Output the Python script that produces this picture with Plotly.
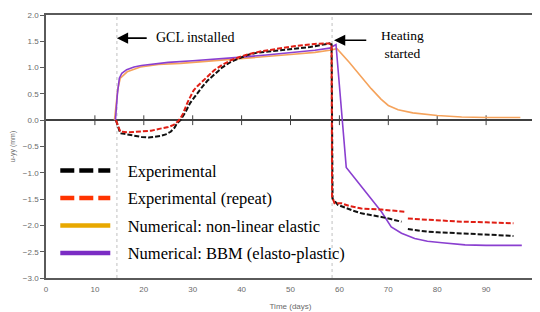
import plotly.graph_objects as go

# ---------------- data ----------------
exp_x = [14.3, 14.8, 15.2, 16, 17, 18, 19.6, 21, 22.5, 23.4, 24.5, 25.5, 26.3, 26.8, 27.5,
         28.5, 29.5, 30.9, 32, 33, 34.3, 36, 37.8, 39.5, 41.2, 43, 45, 48, 50, 52, 54,
         56.3, 57.9, 58.4, 58.6, 59.7, 61, 62.5, 64.5, 66.5, 68.6, 70.5, 72.7, None,
         74, 76, 78, 80, 82, 85, 88, 91, 93, 95.6]
exp_y = [0.0, -0.15, -0.25, -0.26, -0.28, -0.29, -0.32, -0.33, -0.32, -0.3, -0.27, -0.22, -0.14, -0.06, 0.0,
         0.15, 0.33, 0.51, 0.64, 0.75, 0.86, 1.0, 1.11, 1.18, 1.24, 1.28, 1.3, 1.33, 1.35, 1.37, 1.39,
         1.43, 1.46, 1.44, -1.49, -1.61, -1.66, -1.71, -1.77, -1.8, -1.84, -1.88, -1.93, None,
         -2.07, -2.1, -2.12, -2.13, -2.14, -2.15, -2.17, -2.18, -2.19, -2.2]

rep_x = [14.3, 14.8, 15.2, 17, 19.6, 21.5, 23.4, 25, 26.1, 27, 27.5, 28, 29, 30.2, 31, 32.3,
         34.4, 36, 37.8, 39.5, 41.2, 44, 48, 51, 54.9, 57.9, 58.4, 58.5, 59, 60.4, 62, 64.5,
         68.6, 71, 73.3, None, 74, 78, 82, 85, 90, 95.6]
rep_y = [0.0, -0.12, -0.22, -0.23, -0.22, -0.2, -0.16, -0.13, -0.09, -0.02, 0.04, 0.12, 0.35, 0.57, 0.65, 0.76,
         0.95, 1.05, 1.14, 1.2, 1.25, 1.31, 1.37, 1.41, 1.45, 1.46, 1.44, -1.45, -1.58, -1.58, -1.63, -1.68,
         -1.7, -1.72, -1.74, None, -1.87, -1.89, -1.91, -1.93, -1.94, -1.96]

nle_x = [14.0, 14.3, 14.7, 15.2, 16.6, 19.3, 23, 27.5, 35, 40, 45, 50, 55, 58, 59.5,
         62, 64.5, 66.5, 68.5, 70, 72, 75, 80, 85, 90, 97]
nle_y = [0.0, 0.3, 0.6, 0.8, 0.92, 1.01, 1.06, 1.08, 1.13, 1.17, 1.21, 1.25, 1.29, 1.33, 1.36,
         1.1, 0.82, 0.6, 0.4, 0.28, 0.2, 0.14, 0.09, 0.06, 0.05, 0.05]

bbm_x = [14.2, 14.6, 15, 15.5, 16.5, 18, 19.5, 22, 25, 30, 35, 40, 45, 50, 55, 58, 59.3,
         61.4, 64.5, 68.6, 70.6, 72.7, 75.4, 78, 81, 85.7, 90, 97.3]
bbm_y = [0.0, 0.5, 0.8, 0.89, 0.96, 1.01, 1.04, 1.07, 1.1, 1.13, 1.16, 1.2, 1.24, 1.28, 1.33, 1.37, 1.44,
         -0.9, -1.27, -1.74, -2.03, -2.15, -2.25, -2.3, -2.33, -2.37, -2.38, -2.38]

series_names = ["Experimental", "Experimental (repeat)",
                "Numerical: non-linear elastic", "Numerical: BBM (elasto-plastic)"]

event_x = [14.5, 58.5]
x_ticks = [0, 10, 20, 30, 40, 50, 60, 70, 80, 90, 100]
y_ticks = [2.0, 1.5, 1.0, 0.5, 0.0, -0.5, -1.0, -1.5, -2.0, -2.5, -3.0]

# ---------------- figure ----------------
fig = go.Figure()

serif = "Liberation Serif"
sans = "Liberation Sans"

# tick marks along the zero line
fig.add_trace(go.Scatter(x=x_ticks[1:-1], y=[0] * (len(x_ticks) - 2), mode="markers",
                         marker=dict(symbol="line-ns-open", size=7, color="#404040",
                                     line=dict(color="#404040", width=1)),
                         showlegend=False, hoverinfo="skip"))

fig.add_trace(go.Scatter(x=nle_x, y=nle_y, mode="lines", line=dict(color="#F5A35C", width=1.6),
                         showlegend=False))
fig.add_trace(go.Scatter(x=bbm_x, y=bbm_y, mode="lines", line=dict(color="#8A3FD0", width=1.6),
                         showlegend=False))
fig.add_trace(go.Scatter(x=exp_x, y=exp_y, mode="lines",
                         line=dict(color="#111111", width=2, dash="5px,2px"), showlegend=False))
fig.add_trace(go.Scatter(x=rep_x, y=rep_y, mode="lines",
                         line=dict(color="#E01E14", width=2, dash="5px,2px"), showlegend=False))

# legend entries (legend styling differs from plotted lines)
legend_styles = [
    dict(color="#000000", width=4.5, dash="14px,5px"),
    dict(color="#FF3300", width=4.5, dash="14px,5px"),
    dict(color="#E8A800", width=4.5),
    dict(color="#7B2CC4", width=4.5),
]
pad = "\u00a0\u00a0\u00a0"
for i, (nm, st) in enumerate(zip(series_names, legend_styles)):
    fig.add_trace(go.Scatter(x=[None], y=[None], mode="lines", name=pad + nm, line=st,
                             legendgroup=f"g{i}", showlegend=True))

for xv in event_x:
    fig.add_vline(x=xv, line=dict(color="#C0C0C0", width=1, dash="dot"), layer="below")

# annotations
fig.add_annotation(x=14.5, y=1.56, ax=20.9, ay=1.56, axref="x", ayref="y", xref="x", yref="y",
                   text="", showarrow=True, arrowhead=2, arrowsize=1.4, arrowwidth=1.6,
                   arrowcolor="#000000")
fig.add_annotation(x=22, y=1.57, text="GCL installed", showarrow=False, xanchor="left",
                   font=dict(family=serif, size=14, color="#000"))
fig.add_annotation(x=58.9, y=1.52, ax=65.8, ay=1.52, axref="x", ayref="y", xref="x", yref="y",
                   text="", showarrow=True, arrowhead=2, arrowsize=1.4, arrowwidth=1.6,
                   arrowcolor="#000000")
fig.add_annotation(x=72.9, y=1.43, text="Heating<br>started", showarrow=False,
                   font=dict(family=serif, size=13.5, color="#000"))

fig.update_layout(
    width=532, height=304,
    margin=dict(l=38, r=5, t=7, b=34, autoexpand=False),
    plot_bgcolor="white", paper_bgcolor="white",
    showlegend=True,
    legend=dict(x=0.019, y=0.474, xanchor="left", yanchor="top",
                bgcolor="rgba(0,0,0,0)", itemwidth=50, tracegroupgap=3,
                font=dict(family=serif, size=16.5, color="#000")),
    xaxis=dict(range=[0, 100], tickvals=x_ticks, ticks="", showgrid=False, zeroline=False,
               automargin=False, ticklabelstandoff=3,
               showline=True, mirror=True, linecolor="#5A5A5A", linewidth=1.5,
               tickfont=dict(family=sans, size=8, color="#6A6A6A"),
               title=dict(text="Time (days)", font=dict(family=sans, size=8, color="#6A6A6A"),
                          standoff=10)),
    yaxis=dict(range=[-3, 2], tickvals=y_ticks, tickformat=".1f", ticks="outside", ticklen=4,
               automargin=False,
               tickcolor="#5A5A5A", showgrid=False, zeroline=True, zerolinecolor="#404040",
               zerolinewidth=1.5, showline=True, mirror=True, linecolor="#5A5A5A", linewidth=1.5,
               tickfont=dict(family=sans, size=8, color="#6A6A6A"),
               title=dict(text="u-yy (mm)", font=dict(family=sans, size=7, color="#6A6A6A"),
                          standoff=6)),
)

fig.write_html("out.html")
